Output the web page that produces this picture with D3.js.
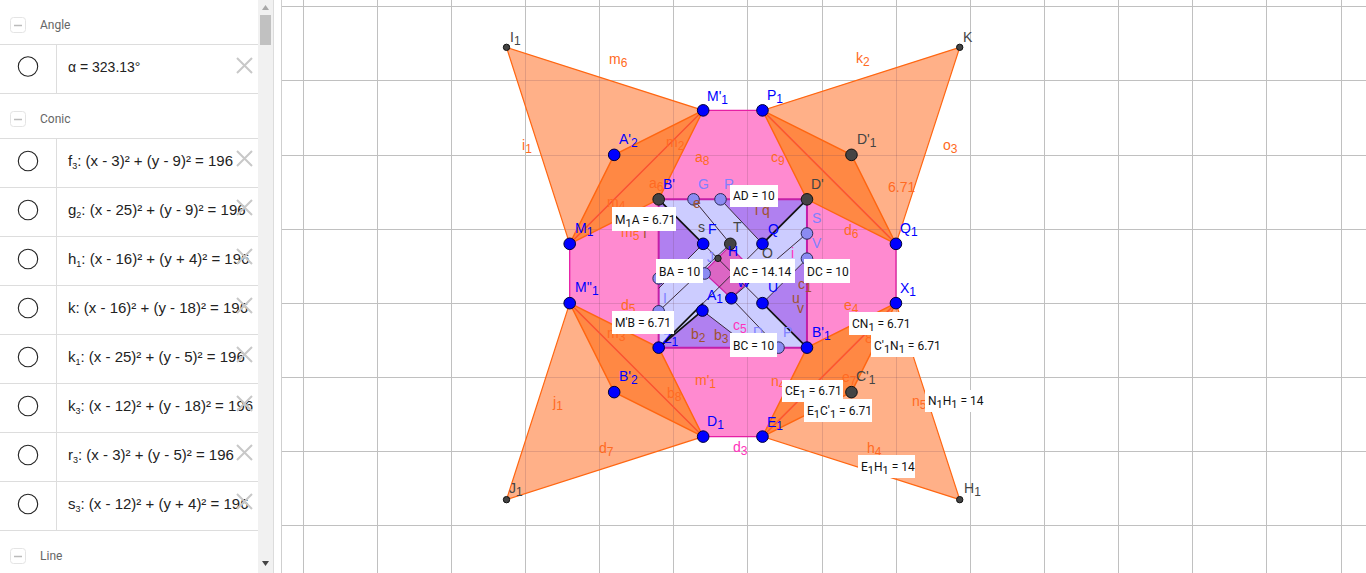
<!DOCTYPE html>
<html><head><meta charset="utf-8">
<script src="https://cdn.jsdelivr.net/npm/d3@7"></script>
<style>html,body{margin:0;padding:0;background:#fff;overflow:hidden}svg{display:block}</style>
</head><body><div id="c"></div>
<script>
// ---------- data (construction coordinates, in graph units) ----------
const gridXs=[-15,-10,-5,0,5,10,15,20,25,30,35,40,45,50,55];
const gridYs=[25,20,15,10,5,0,-5,-10];
const bluePointNames=["M1","M2","N1","P1","Q1","X1","E1","D1","L","B1","F","Q","U","W","A1","A2","B2"];
const bluePointX=[3,3,12,16,25,25,16,12,9,19,12,16,16,13.9,11.95,6,6];
const bluePointY=[9,5,18,18,9,5,-4,-4,2,2,9,9,5,5.33,4.5,15,-1];
const darkPointNames=["A","D","T","D2","C2"];
const darkPointX=[9,19,13.83,22,22];
const darkPointY=[12,12,9,15,-1];
const smallPointNames=["I1","K","J1","H1","Z"];
const smallPointX=[-1.26,29.3,-1.26,29.3,13];
const smallPointY=[22.25,22.25,-8.25,-8.25,8.02];
const lightPointNames=["G","R","S","V","C0","I","P","J"];
const lightPointX=[11.35,13.17,19,19,9,9,17.08,12.1];
const lightPointY=[12,12,9.7,8,6.67,4.45,2,7];
const helperNames=["Lm","Bm","Am","Dg1","Dg2","Dg3","Dg4"];
const helperX=[9,15.2,12,13.78,15.6,13.9,12.03];
const helperY=[6,2,5,8.83,7,5.33,7.08];
const octagon=["M1","N1","P1","Q1","X1","E1","D1","M2"];
const square=["A","D","B1","L"];
const diamond=["Dg1","Dg2","Dg3","Dg4"];
const purpleTriangles=[["A","F","Lm"],["R","D","Q"],["V","U","B1"],["L","A1","Bm"]];
const wings=[["I1","M1","N1","A2","A"],["K","P1","Q1","D2","D"],["J1","M2","D1","B2","L"],["H1","E1","X1","C2","B1"]];
const thickSegments=[["A","F"],["U","B1"],["D","Q"],["L","Am"],["L","A1"]];
const thinSegments=[["F","U"],["Q","Am"],["G","T"],["T","I"],["R","Q"],["V","U"],["S","W"],["W","P"],["F","Lm"],["A1","Bm"]];
const conicNames=["f_3","g_2","h_1","k","k_1","k_3","r_3","s_3"];
const conicH=[3,25,16,16,25,12,3,12];
const conicK=[9,9,-4,18,5,18,5,-4];
const conicRSquared=196;
const angleText="α = 323.13°";
const orangeLabels=["m_6","i_1","m_2","a_8","a_6","m_4","m_5","k_2","c_9","o_3","6.71","d_6","j_1","d_7","m_3","d_5","b_8","m'_1","e_4","8","n_4","e_7","n_5","h_4"];
const brownLabels=["f","b_2","b_3","c_1","u","v","e","q","i"];
const pinkLabels=["d_3","c_5","i"];
const lightLabels=["G","R","S","V","I","P","D","J"];
const blueLabels=["F","Q","H","U","A_1","B'_1","W","Z_1","B'","M'_1","P_1","A'_2","M_1","Q_1","X_1","M''_1","B'_2","D_1","E_1"];
const darkLabels=["I_1","K","D'_1","D'","s","T","O","J_1","H_1","C'_1"];
const valueBoxes=["AD = 10","M_1A = 6.71","BA = 10","AC = 14.14","DC = 10","M'B = 6.71","BC = 10","CN_1 = 6.71","C'_1N_1 = 6.71","CE_1 = 6.71","E_1C'_1 = 6.71","N_1H_1 = 14","E_1H_1 = 14"];

// ---------- text placement on screen (left, baseline) ----------
const orangePos=[[609,64],[522,150],[666,147],[695,162],[649,188],[607,207],[621,237],[856,63],[771,162],[943,150],[888,192],[844,235],[553,407],[599,453],[607,338],[621,310],[667,398],[695,385],[844,310],[865,343],[771,386],[842,382],[912,406],[867,453]];
const brownPos=[[643,238],[691,339],[714,340],[798,289],[792,303],[797,313],[693,208],[762,215],[755,215]];
const pinkPos=[[733,452],[733,330],[791,258]];
const lightPos=[[698,189],[724,189],[812,223],[812,248],[663,303],[783,337],[753,337],[707,262]];
const bluePos=[[708,234],[768,234],[728,256],[768,292],[707,300],[812,337],[737,287],[663,343],[663,189],[707,101],[767,100],[619,144],[575,233],[900,233],[900,293],[575,292],[619,381],[707,426],[767,427]];
const darkPos=[[510,42],[963,42],[857,144],[811,189],[698,232],[733,232],[762,258],[509,493],[964,493],[856,381]];
const boxRects=[[730,185,48,22],[612,207,64,24],[656,259,47,24],[730,259,65,24],[804,259,46,24],[612,311,62,23],[730,333,47,24],[849,312,59,23],[871,333,67,24],[782,380,61,22],[804,399,68,23],[925,390,58,22],[858,455,57,23]];
const panelRows=[44,93,138,187,236,285,334,383,432,481,530];
const panelHeaders=[["Angle",25],["Conic",119],["Line",556]];

// ---------- drawing ----------
const W=1366,H=573;
const svg=d3.select("#c").append("svg").attr("width",W).attr("height",H).attr("viewBox",[0,0,W,H]);
const x=d3.scaleLinear().domain([0,10]).range([525.2,673.5]);
const y=d3.scaleLinear().domain([0,10]).range([377.3,229]);
const pts={};
[[bluePointNames,bluePointX,bluePointY],[darkPointNames,darkPointX,darkPointY],[smallPointNames,smallPointX,smallPointY],[lightPointNames,lightPointX,lightPointY],[helperNames,helperX,helperY]]
 .forEach(([n,a,b])=>n.forEach((k,i)=>pts[k]=[x(a[i]),y(b[i])]));
const line=d3.line();
const poly=names=>line(names.map(n=>pts[n]))+"Z";
const seg=names=>line(names.map(n=>pts[n]));
const graphLeft=281;
const snap=v=>Math.floor(v+.3)+.5;
function grid(g,color){
  g.selectAll(".v").data(gridXs).join("line").attr("class","v").attr("x1",d=>snap(x(d))).attr("x2",d=>snap(x(d))).attr("y1",0).attr("y2",H).attr("stroke",color);
  g.selectAll(".h").data(gridYs).join("line").attr("class","h").attr("x1",graphLeft).attr("x2",W).attr("y1",d=>snap(y(d))).attr("y2",d=>snap(y(d))).attr("stroke",color);
}
grid(svg.append("g").attr("class","grid"),"#c0c0c0");

const fills=svg.append("g");
fills.append("path").attr("d",poly(octagon)).attr("fill","#ff8ad0");
wings.forEach(w=>fills.append("path").attr("d",poly(w.slice(0,3))).attr("fill","#ffb088"));
fills.append("path").attr("d",poly(square)).attr("fill","#ccccff");
purpleTriangles.forEach(t=>fills.append("path").attr("d",poly(t)).attr("fill","#b080f0"));
fills.append("path").attr("d",poly(diamond)).attr("fill","#dc66c4").attr("stroke","#cc1fa8").attr("stroke-width",1.2);
wings.forEach(w=>fills.append("path").attr("d",poly([w[1],w[3],w[2],w[4]])).attr("fill","#ff8844"));
// the grid shows faintly through the translucent regions only
const clip=svg.append("clipPath").attr("id","regions");
clip.append("path").attr("d",poly(octagon));
wings.forEach(w=>{clip.append("path").attr("d",poly(w.slice(0,3)));clip.append("path").attr("d",poly([w[1],w[3],w[2],w[4]]));});
clip.append("path").attr("d",poly(square));
grid(fills.append("g").attr("clip-path","url(#regions)"),"rgba(110,70,90,0.2)");

const edges=svg.append("g").attr("fill","none");
edges.append("path").attr("d",poly(octagon)).attr("stroke","#e61ea5").attr("stroke-width",1.3);
edges.append("path").attr("d",poly(square)).attr("stroke","#c31fa8").attr("stroke-width",2);
wings.forEach(w=>{
  edges.append("path").attr("d",poly(w.slice(0,3))).attr("stroke","#ff6611").attr("stroke-width",1.2);
  edges.append("path").attr("d",poly([w[1],w[3],w[2],w[4]])).attr("stroke","#ff6611").attr("stroke-width",1.4);
});
thinSegments.forEach(s=>edges.append("path").attr("d",seg(s)).attr("stroke","#3a2a3a").attr("stroke-width",1));
thickSegments.forEach(s=>edges.append("path").attr("d",seg(s)).attr("stroke","#111").attr("stroke-width",1.7));

function dots(names,r,fill,stroke){
  svg.append("g").selectAll("circle").data(names).join("circle")
   .attr("cx",d=>pts[d][0]).attr("cy",d=>pts[d][1]).attr("r",r).attr("fill",fill).attr("stroke",stroke).attr("stroke-width",1);
}
dots(lightPointNames,5.8,"#8b8bf2","#2a2a55");
dots(smallPointNames,3.2,"#444","#111");
dots(darkPointNames,5.8,"#444","#111");
dots(bluePointNames,5.8,"#0000ff","#00003a");

function rich(sel,s,subSize,drop){
  sel.text(null);
  const parts=s.split(/(_.)/).filter(p=>p!=="");
  let pending=0;
  parts.forEach(p=>{
    const t=sel.append("tspan");
    if(p[0]==="_"&&p.length===2){pending=drop;t.text(p[1]).attr("dy",drop).attr("font-size",subSize);}
    else{t.text(p);if(pending){t.attr("dy",-pending);pending=0;}}
  });
}
function labels(texts,pos,color){
  const g=svg.append("g").attr("font-family","'Liberation Sans',Arial,sans-serif").attr("font-size",14).attr("fill",color);
  texts.forEach((t,i)=>{
    const n=g.append("text").attr("x",pos[i][0]).attr("y",pos[i][1]);
    rich(n,t,12,3);
  });
}
labels(orangeLabels,orangePos,"#ff6a22");
labels(brownLabels,brownPos,"#a0522d");
labels(pinkLabels,pinkPos,"#ff33bb");
labels(lightLabels,lightPos,"#8080ff");
labels(darkLabels,darkPos,"#444444");
labels(blueLabels,bluePos,"#0000ff");

const boxes=svg.append("g");
valueBoxes.forEach((t,i)=>{
  const r=boxRects[i];
  boxes.append("rect").attr("x",r[0]).attr("y",r[1]).attr("width",r[2]).attr("height",r[3]).attr("fill","#fff");
  const n=boxes.append("text").attr("x",r[0]+3).attr("y",r[1]+r[3]-7).attr("font-family","Roboto,sans-serif").attr("font-size",12).attr("fill","#111");
  rich(n,t,11,3);
});

// algebra panel
const panel=svg.append("g");
panel.append("rect").attr("width",281).attr("height",H).attr("fill","#fff");
panel.append("line").attr("x1",273.5).attr("x2",273.5).attr("y1",0).attr("y2",H).attr("stroke","#dcdcdc");
panel.append("line").attr("x1",281.5).attr("x2",281.5).attr("y1",0).attr("y2",H).attr("stroke","#cfcfcf");
panel.append("rect").attr("x",258).attr("width",15).attr("height",H).attr("fill","#f1f1f1");
panel.append("rect").attr("x",260).attr("y",15).attr("width",11).attr("height",30).attr("fill","#c1c1c1");
panel.append("path").attr("d","M262 10L265.5 5L269 10Z").attr("fill","#a8a8a8");
panel.append("path").attr("d","M262 561L265.5 566L269 561Z").attr("fill","#444");
panelRows.forEach(r=>panel.append("line").attr("x1",0).attr("x2",258).attr("y1",r+.5).attr("y2",r+.5).attr("stroke","#ddd"));
[[44,93],[138,530]].forEach(s=>panel.append("line").attr("x1",56.5).attr("x2",56.5).attr("y1",s[0]).attr("y2",s[1]).attr("stroke","#ddd"));
panelHeaders.forEach(([t,yy])=>{
  panel.append("rect").attr("x",10.5).attr("y",yy-7.5).attr("width",15).attr("height",15).attr("rx",3).attr("fill","#fff").attr("stroke","#e4e4e4");
  panel.append("line").attr("x1",14).attr("x2",22).attr("y1",yy+.5).attr("y2",yy+.5).attr("stroke","#bbb").attr("stroke-width",1.5);
  panel.append("text").attr("x",40).attr("y",yy+4).attr("font-family","Roboto,sans-serif").attr("font-size",12).attr("fill","#666").text(t);
});
const conicLabel=(i)=>{
  const h=conicH[i],k=conicK[i];
  return `${conicNames[i]}: (x - ${h})² + (y ${k<0?"+":"-"} ${Math.abs(k)})² = ${conicRSquared}`;
};
const rowTexts=[angleText].concat(conicNames.map((_,i)=>conicLabel(i)));
const rowCenters=[66,159,208,257,306,355,404,453,502];
rowTexts.forEach((t,i)=>{
  const c=rowCenters[i];
  panel.append("circle").attr("cx",28).attr("cy",c+ (i?2:.5)).attr("r",9.7).attr("fill","#fff").attr("stroke","#222").attr("stroke-width",1.1);
  const n=panel.append("text").attr("x",68).attr("y",c+(i?7:6)).attr("font-family","'Liberation Sans',Arial,sans-serif").attr("font-size",i?15:14).attr("fill","#222");
  rich(n,t,9,3);
  panel.append("path").attr("d",`M237 ${c-8}L252 ${c+7}M252 ${c-8}L237 ${c+7}`).attr("stroke","#c8c8c8").attr("stroke-width",2).attr("fill","none");
});
</script></body></html>
